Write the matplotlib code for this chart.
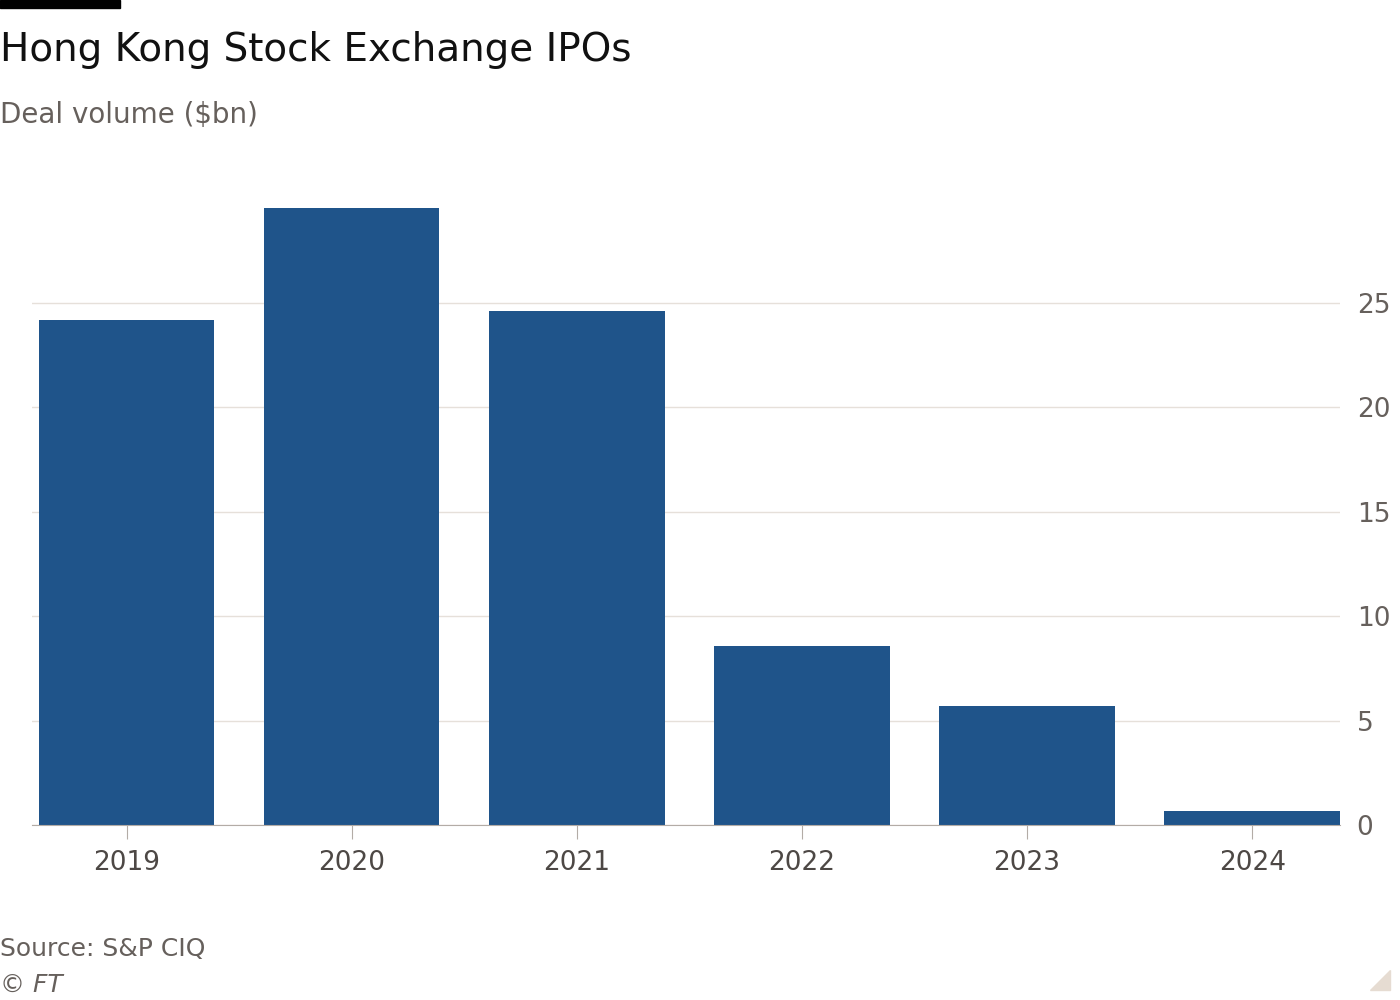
import matplotlib.pyplot as plt
from matplotlib.patches import Rectangle, Polygon

years = ["2019", "2020", "2021", "2022", "2023", "2024"]
volume = [24.2, 29.55, 24.6, 8.57, 5.7, 0.67]
yticks = [0, 5, 10, 15, 20, 25]

W, H = 1400, 1000
fig = plt.figure(figsize=(14, 10), dpi=100, facecolor="white")

# axes in pixel coordinates: left 32, right 1340, bottom y=825, top ~ y=190
y0, ppu = 825, 20.88
ymax = 30.4
top = y0 - ymax * ppu
ax = fig.add_axes([32 / W, 1 - y0 / H, (1340 - 32) / W, (y0 - top) / H])
ax.set_facecolor("white")

x = range(len(years))
ax.bar(x, volume, width=0.78, color="#1f548a", zorder=3)
ax.set_xlim(-0.42, 5.39)
ax.set_ylim(0, ymax)
ax.set_xticks(list(x))
ax.set_xticklabels(years)
ax.set_yticks(yticks)
ax.yaxis.tick_right()
ax.grid(axis="y", color="#e6e0da", linewidth=1, zorder=0)
ax.tick_params(axis="y", length=0, pad=12, labelsize=19, labelcolor="#66605c")
ax.tick_params(axis="x", length=10, color="#b3aca6", pad=8, labelsize=19, labelcolor="#4d4845")
for s in ["top", "left", "right"]:
    ax.spines[s].set_visible(False)
ax.spines["bottom"].set_color("#b3aca6")
ax.spines["bottom"].set_zorder(4)

fig.text(0.0, 1 - 50 / H, "Hong Kong Stock Exchange IPOs", fontsize=28, color="#111111", va="center")
fig.text(0.0, 1 - 115 / H, "Deal volume ($bn)", fontsize=20, color="#66605c", va="center")
fig.text(0.0, 1 - 949 / H, "Source: S&P CIQ", fontsize=18, color="#66605c", va="center")
fig.text(0.0, 1 - 985 / H, "© FT", fontsize=18, color="#66605c", va="center", style="italic")

fig.patches.append(Rectangle((0, 1 - 8 / H), 120 / W, 8 / H, transform=fig.transFigure,
                             color="black", figure=fig))
fig.patches.append(Polygon([(1 - 30 / W, 1 - 990 / H), (1 - 10 / W, 1 - 990 / H), (1 - 10 / W, 1 - 970 / H)],
                           closed=True, transform=fig.transFigure, color="#e6dcd2", figure=fig))

fig.savefig("out.png", dpi=100, facecolor="white")
